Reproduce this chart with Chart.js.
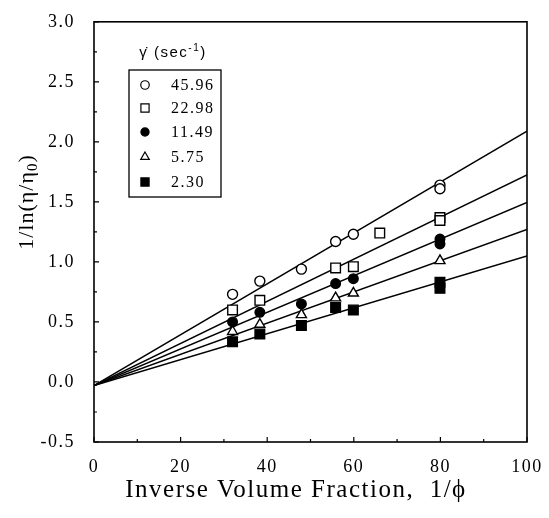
<!DOCTYPE html>
<html>
<head>
<meta charset="utf-8">
<script src="https://cdn.jsdelivr.net/npm/chart.js@4.4.0/dist/chart.umd.min.js"></script>
<style>
html, body { margin: 0; padding: 0; background: #fff; }
#wrap { width: 549px; height: 518px; }
</style>
</head>
<body>
<div id="wrap"><canvas id="myChart" width="549" height="518"></canvas></div>
<script>
// shear rates in the legend (sec^-1)
const rates = ["45.96", "22.98", "11.49", "5.75", "2.30"]

const x4596 = [32, 38.3, 47.9, 55.8, 59.9, 79.9, 79.9]
const y4596 = [0.73, 0.84, 0.94, 1.17, 1.23, 1.64, 1.61]
const x2298 = [32, 38.3, 55.8, 59.9, 66.0, 79.9, 79.9]
const y2298 = [0.60, 0.68, 0.95, 0.96, 1.24, 1.37, 1.345]
const x1149 = [32, 38.3, 47.9, 55.8, 59.9, 79.9, 79.9]
const y1149 = [0.50, 0.58, 0.65, 0.82, 0.86, 1.19, 1.15]
const x575 = [32, 38.3, 47.9, 55.8, 59.9, 79.9]
const y575 = [0.42, 0.48, 0.56, 0.70, 0.74, 1.01]
const x230 = [32, 38.3, 47.9, 55.8, 59.9, 79.9, 79.9]
const y230 = [0.335, 0.40, 0.47, 0.62, 0.60, 0.83, 0.78]

// fitted straight lines, all start from the same intercept
const fitX = [0, 100]
const fitStart = -0.03
const fitEnd = [2.09, 1.725, 1.495, 1.27, 1.05]

// axis range and tick steps
const xMin = 0, xMax = 100, xStep = 10, xLabelStep = 20
const yMin = -0.5, yMax = 3.0, yStep = 0.25, yLabelStep = 0.5

const serif = "'Liberation Serif', 'DejaVu Serif', serif"

function pts(xs, ys) {
    let out = []
    for (let i = 0; i < xs.length; i++) out.push({x: xs[i], y: ys[i]})
    return out
}

// marker looks per series (same order as rates)
const markers = [
    {pointStyle: "circle", radius: 5, fill: "#fff"},
    {pointStyle: "rect", radius: 6.8, fill: "#fff"},
    {pointStyle: "circle", radius: 4.8, fill: "#000"},
    {pointStyle: "triangle", radius: 5.8, fill: "#fff"},
    {pointStyle: "rect", radius: 6.8, fill: "#000"},
]
const seriesX = [x4596, x2298, x1149, x575, x230]
const seriesY = [y4596, y2298, y1149, y575, y230]

let datasets = []
for (let i = 0; i < rates.length; i++) {
    datasets.push({
        type: "scatter",
        label: rates[i],
        data: pts(seriesX[i], seriesY[i]),
        pointStyle: markers[i].pointStyle,
        pointRadius: markers[i].radius,
        backgroundColor: markers[i].fill,
        borderColor: "#000",
        borderWidth: 1.4,
        order: 1
    })
}
for (let i = 0; i < fitEnd.length; i++) {
    datasets.push({
        type: "line",
        label: "fit " + rates[i],
        data: pts(fitX, [fitStart, fitEnd[i]]),
        borderColor: "#000",
        borderWidth: 1.5,
        pointRadius: 0,
        fill: false,
        order: 10
    })
}

function isMultiple(v, step) {
    let r = v / step
    return Math.abs(r - Math.round(r)) < 1e-6
}

// draws a string made of pieces {t, font, dy}, centered on x
function drawPieces(ctx, pieces, x, y) {
    let total = 0
    pieces.forEach(p => { ctx.font = p.font; p.w = ctx.measureText(p.t).width; total += p.w })
    let cx = x - total / 2
    pieces.forEach(p => { ctx.font = p.font; ctx.fillText(p.t, cx, y + (p.dy || 0)); cx += p.w })
}

// frame, inward tick marks, titles and legend box
const framePlugin = {
    id: "framePlugin",
    beforeDraw(chart) {
        chart.ctx.letterSpacing = "1.5px"   // tick labels are spaced out in the original
    },
    beforeDatasetsDraw(chart) {
        const ctx = chart.ctx
        const a = chart.chartArea
        ctx.save()
        ctx.letterSpacing = "0px"
        ctx.strokeStyle = "#000"
        ctx.lineWidth = 1.6
        ctx.strokeRect(a.left, a.top, a.right - a.left, a.bottom - a.top)
        ctx.lineWidth = 1.2
        ctx.beginPath()
        chart.scales.x.ticks.forEach(t => {
            let px = chart.scales.x.getPixelForValue(t.value)
            let len = isMultiple(t.value, xLabelStep) ? 5 : 3
            ctx.moveTo(px, a.bottom)
            ctx.lineTo(px, a.bottom - len)
        })
        chart.scales.y.ticks.forEach(t => {
            let py = chart.scales.y.getPixelForValue(t.value)
            let len = isMultiple(t.value, yLabelStep) ? 5 : 3
            ctx.moveTo(a.left, py)
            ctx.lineTo(a.left + len, py)
        })
        ctx.stroke()
        ctx.restore()
    },
    afterDraw(chart) {
        const ctx = chart.ctx
        ctx.save()
        ctx.fillStyle = "#000"
        ctx.strokeStyle = "#000"
        ctx.textAlign = "left"

        // y title with subscript 0
        ctx.save()
        ctx.translate(27, 202)
        ctx.rotate(-Math.PI / 2)
        ctx.textBaseline = "middle"
        ctx.letterSpacing = "1px"
        let big = "22px " + serif, small = "15px " + serif
        drawPieces(ctx, [{t: "1/ln(\u03b7/\u03b7", font: big}, {t: "0", font: small, dy: 6}, {t: ")", font: big}], 0, 0)
        ctx.restore()

        // x title
        ctx.save()
        ctx.letterSpacing = "1.5px"
        ctx.textBaseline = "middle"
        drawPieces(ctx, [{t: "Inverse Volume Fraction,  1/\u03d5", font: "25px " + serif}], 296, 490)
        ctx.restore()

        // legend title and box
        ctx.save()
        ctx.letterSpacing = "1.5px"
        ctx.textBaseline = "middle"
        let sans = "'Liberation Sans', Arial, sans-serif"
        drawPieces(ctx, [
            {t: "\u03b3\u0307 (sec", font: "15px " + sans},
            {t: "-1", font: "10px " + sans, dy: -5},
            {t: ")", font: "15px " + sans}
        ], 173, 53)
        ctx.restore()

        ctx.lineWidth = 1.3
        ctx.strokeRect(129, 70, 92, 127)

        const rowY = [85, 108, 132, 157, 182]
        ctx.font = "16px " + serif
        ctx.letterSpacing = "1.5px"
        ctx.textBaseline = "middle"
        for (let i = 0; i < rates.length; i++) {
            let ds = chart.data.datasets[i]
            ctx.fillStyle = ds.backgroundColor
            ctx.strokeStyle = "#000"
            ctx.lineWidth = 1.2
            Chart.helpers.drawPoint(ctx, {pointStyle: ds.pointStyle, radius: ds.pointRadius * 0.85, rotation: 0, borderWidth: 1.2}, 145, rowY[i])
            ctx.fillStyle = "#000"
            ctx.fillText(rates[i], 171, rowY[i] + 1)
        }
        ctx.restore()
    }
}

chart = new Chart(document.getElementById("myChart").getContext("2d"), {
    data: {datasets: datasets},
    options: {
        responsive: false,
        animation: false,
        layout: {padding: {left: 0, right: 22, top: 20, bottom: 0}},
        plugins: {legend: {display: false}, tooltip: {enabled: false}},
        scales: {
            x: {
                type: "linear",
                min: xMin, max: xMax,
                afterFit: s => { s.height = 76 },
                grid: {display: false},
                border: {display: false},
                ticks: {
                    stepSize: xStep, autoSkip: false, maxRotation: 0, padding: 6,
                    color: "#000", font: {family: serif, size: 18},
                    callback: v => isMultiple(v, xLabelStep) ? String(v) : ""
                }
            },
            y: {
                type: "linear",
                min: yMin, max: yMax,
                afterFit: s => { s.width = 94 },
                grid: {display: false},
                border: {display: false},
                ticks: {
                    stepSize: yStep, autoSkip: false, padding: 11,
                    color: "#000", font: {family: serif, size: 18},
                    callback: v => isMultiple(v, yLabelStep) ? v.toFixed(1) : ""
                }
            }
        }
    },
    plugins: [framePlugin]
});
</script>
</body>
</html>
